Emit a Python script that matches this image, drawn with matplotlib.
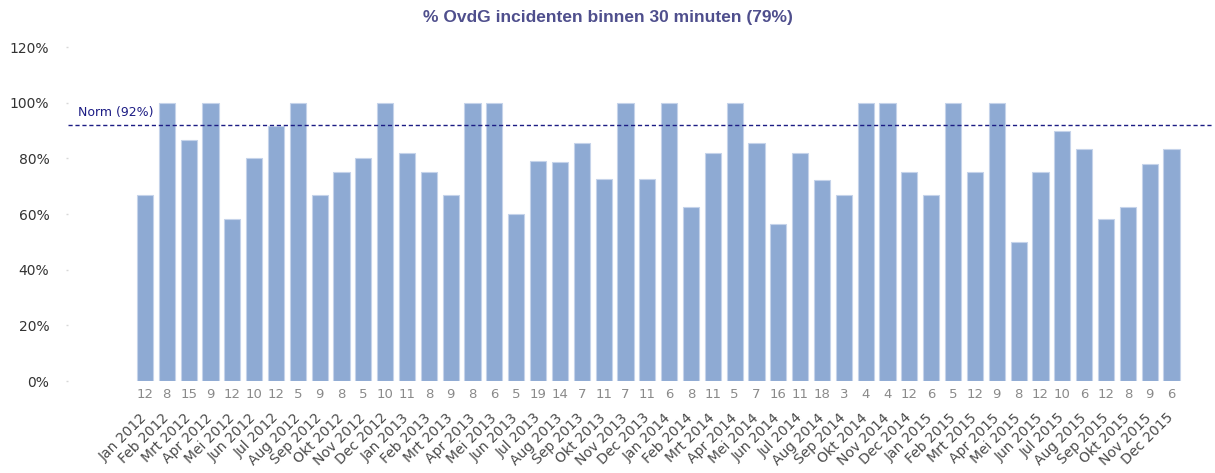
import matplotlib
matplotlib.use("Agg")
import matplotlib.pyplot as plt
from matplotlib.transforms import blended_transform_factory

# monthly share of incidents handled within 30 minutes (%), plus incident counts
months = [
    "Jan 2012", "Feb 2012", "Mrt 2012", "Apr 2012", "Mei 2012", "Jun 2012",
    "Jul 2012", "Aug 2012", "Sep 2012", "Okt 2012", "Nov 2012", "Dec 2012",
    "Jan 2013", "Feb 2013", "Mrt 2013", "Apr 2013", "Mei 2013", "Jun 2013",
    "Jul 2013", "Aug 2013", "Sep 2013", "Okt 2013", "Nov 2013", "Dec 2013",
    "Jan 2014", "Feb 2014", "Mrt 2014", "Apr 2014", "Mei 2014", "Jun 2014",
    "Jul 2014", "Aug 2014", "Sep 2014", "Okt 2014", "Nov 2014", "Dec 2014",
    "Jan 2015", "Feb 2015", "Mrt 2015", "Apr 2015", "Mei 2015", "Jun 2015",
    "Jul 2015", "Aug 2015", "Sep 2015", "Okt 2015", "Nov 2015", "Dec 2015",
]
pct_within = [
    66.7, 100, 86.7, 100, 58.3, 80, 91.7, 100, 66.7, 75, 80, 100,
    81.8, 75, 66.7, 100, 100, 60, 78.9, 78.6, 85.7, 72.7, 100, 72.7,
    100, 62.5, 81.8, 100, 85.7, 56.3, 81.8, 72.2, 66.7, 100, 100, 75,
    66.7, 100, 75, 100, 50, 75, 90, 83.3, 58.3, 62.5, 77.8, 83.3,
]
counts = [
    12, 8, 15, 9, 12, 10, 12, 5, 9, 8, 5, 10,
    11, 8, 9, 8, 6, 5, 19, 14, 7, 11, 7, 11,
    6, 8, 11, 5, 7, 16, 11, 18, 3, 4, 4, 12,
    6, 5, 12, 9, 8, 12, 10, 6, 12, 8, 9, 6,
]
norm = 92
title = "% OvdG incidenten binnen 30 minuten (79%)"

plt.rcParams["font.family"] = ["DejaVu Sans"]

fig = plt.figure(figsize=(12.15, 4.73), dpi=100)
ax = fig.add_axes([0.056, 0.1945, 0.942, 0.706])

x = list(range(len(months)))
ax.bar(x, pct_within, width=0.74, color="#8eaad3", edgecolor="#c5d3ea", linewidth=0.8, zorder=2)
ax.axhline(norm, color="#1c1c84", linestyle=(0, (3, 2)), linewidth=1.0, zorder=3)
ax.text(-3.05, norm + 2.0, "Norm (92%)", color="#1c1c84", fontsize=9,
        va="bottom", ha="left")

ax.set_xlim(-3.52, 48.88)
ax.set_ylim(0, 120)
ax.set_yticks(range(0, 121, 20))
ax.set_yticklabels([f"{v}%" for v in range(0, 121, 20)], fontsize=10, color="#333333")
ax.tick_params(axis="y", length=1.5, width=1, color="#d8d8d8", pad=12)

ax.set_xticks(x)
ax.set_xticklabels(months, rotation=45, ha="right", va="center", rotation_mode="anchor",
                   fontsize=10, color="#4a4a4a")
ax.tick_params(axis="x", length=0, pad=25)

for s in ax.spines.values():
    s.set_visible(False)

trans = blended_transform_factory(ax.transData, ax.transAxes)
for xi, c in zip(x, counts):
    ax.text(xi, -0.022, str(c), transform=trans, ha="center", va="top",
            fontsize=9.5, color="#8a8a8a")

fig.text(0.5, 0.962, title, ha="center", va="center", fontsize=12.5, fontweight="bold",
         color="#4f4f8d", family=["Liberation Sans"])

fig.savefig("out.png", dpi=100)
